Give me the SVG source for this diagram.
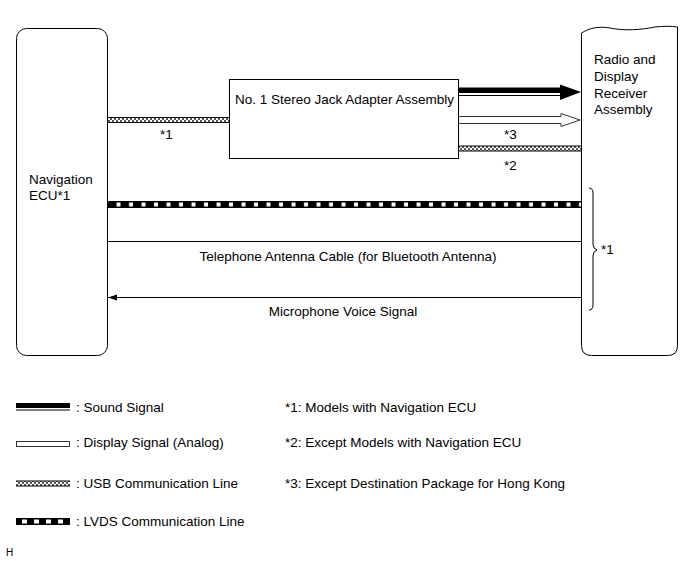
<svg xmlns="http://www.w3.org/2000/svg" width="690" height="561" viewBox="0 0 690 561">
<style>
text{font-family:"Liberation Sans",Arial,sans-serif;font-size:13.5px;fill:#000}
.box{fill:#fff;stroke:#000;stroke-width:1}
.thin{stroke:#000;stroke-width:1;fill:none}
</style>
<defs>
<pattern id="usb" width="4" height="4" patternUnits="userSpaceOnUse">
<rect width="4" height="4" fill="#fff"/>
<rect x="0" y="0" width="2" height="2" fill="#555"/>
<rect x="2" y="2" width="2" height="2" fill="#555"/>
</pattern>
<pattern id="lvds" width="12.5" height="7" patternUnits="userSpaceOnUse" x="108" y="201">
<rect width="12.5" height="7" fill="#000"/>
<rect x="8.5" y="1.5" width="4" height="4" fill="#fff"/>
</pattern>
<marker id="arrL" markerWidth="10" markerHeight="8" refX="9" refY="4" orient="auto" markerUnits="userSpaceOnUse">
<path d="M9,4 L0,1 L0,7 Z" fill="#000"/>
</marker>
</defs>

<g id="navigation-ecu">
<rect class="box" x="16.5" y="28.5" width="91" height="327" rx="10"/>
<text x="29" y="184">Navigation</text>
<text x="29" y="200">ECU*1</text>
</g>

<g id="radio-receiver">
<path class="box" d="M581.5,33 C590,28 598,26 610,28 C625,31 640,30 655,27 C664,26 671,26 677.5,27 L677.5,345.5 Q677.5,355.5 667.5,355.5 L591.5,355.5 Q581.5,355.5 581.5,345.5 Z"/>
<text x="594" y="64">Radio and</text>
<text x="594" y="81">Display</text>
<text x="594" y="98">Receiver</text>
<text x="594" y="114">Assembly</text>
</g>

<g id="stereo-jack-adapter">
<rect class="box" x="229.5" y="79.5" width="229" height="79"/>
<text x="235" y="104">No. 1 Stereo Jack Adapter Assembly</text>
</g>

<g id="connectors">
<!-- USB nav to jack -->
<rect x="108" y="117.5" width="121" height="5" fill="url(#usb)"/>
<line class="thin" x1="108" y1="117.5" x2="229" y2="117.5" stroke-width="0.6"/>
<line class="thin" x1="108" y1="122.5" x2="229" y2="122.5" stroke-width="0.6"/>
<text x="160" y="139">*1</text>
<!-- Sound signal -->
<rect x="459" y="87.5" width="104" height="5.5" fill="#000"/>
<line class="thin" x1="459" y1="95.5" x2="563" y2="95.5"/>
<path d="M560,84.5 L581,92 L560,100 Z" fill="#000"/>
<!-- Display signal -->
<path d="M459,116.5 L561,116.5 L561,113.5 L580,120 L561,126.5 L561,123.5 L459,123.5" fill="#fff" stroke="#000" stroke-width="0.8"/>
<text x="504" y="139">*3</text>
<!-- USB jack to radio -->
<rect x="459" y="146" width="122" height="5" fill="url(#usb)"/>
<line class="thin" x1="459" y1="146" x2="581" y2="146" stroke-width="0.6"/>
<line class="thin" x1="459" y1="151" x2="581" y2="151" stroke-width="0.6"/>
<text x="504" y="170">*2</text>
<!-- LVDS -->
<rect x="108" y="201" width="473" height="7" fill="url(#lvds)"/>
<!-- Telephone antenna -->
<line class="thin" x1="108" y1="241.5" x2="581" y2="241.5"/>
<text x="348" y="261" text-anchor="middle">Telephone Antenna Cable (for Bluetooth Antenna)</text>
<!-- Microphone -->
<line class="thin" x1="581" y1="297.5" x2="108" y2="297.5" marker-end="url(#arrL)"/>
<text x="343" y="316" text-anchor="middle">Microphone Voice Signal</text>
<!-- Brace -->
<path class="thin" d="M589,188 Q593,188 593,193 L593,244 Q593,249 597,250 Q593,251 593,256 L593,305 Q593,310 589,310" stroke-width="0.8"/>
<text x="601" y="254">*1</text>
</g>

<g id="legend">
<rect x="16" y="403" width="54" height="5" fill="#000"/>
<line class="thin" x1="16" y1="410" x2="70" y2="410"/>
<text x="76" y="412">: Sound Signal</text>
<rect x="16.5" y="441.5" width="53" height="5" fill="#fff" stroke="#000" stroke-width="0.8"/>
<text x="76" y="447">: Display Signal (Analog)</text>
<rect x="16" y="481" width="54" height="5" fill="url(#usb)"/>
<line class="thin" x1="16" y1="481" x2="70" y2="481" stroke-width="0.6"/>
<line class="thin" x1="16" y1="486" x2="70" y2="486" stroke-width="0.6"/>
<text x="76" y="488">: USB Communication Line</text>
<rect x="16" y="518" width="54" height="7" fill="#000"/>
<rect x="22" y="519.5" width="5" height="4" fill="#fff"/>
<rect x="34" y="519.5" width="5" height="4" fill="#fff"/>
<rect x="46" y="519.5" width="5" height="4" fill="#fff"/>
<rect x="58" y="519.5" width="5" height="4" fill="#fff"/>
<text x="76" y="526">: LVDS Communication Line</text>
<text x="285" y="412">*1: Models with Navigation ECU</text>
<text x="285" y="447">*2: Except Models with Navigation ECU</text>
<text x="285" y="488">*3: Except Destination Package for Hong Kong</text>
</g>
<text x="6" y="556" style="font-size:10px">H</text>
</svg>
